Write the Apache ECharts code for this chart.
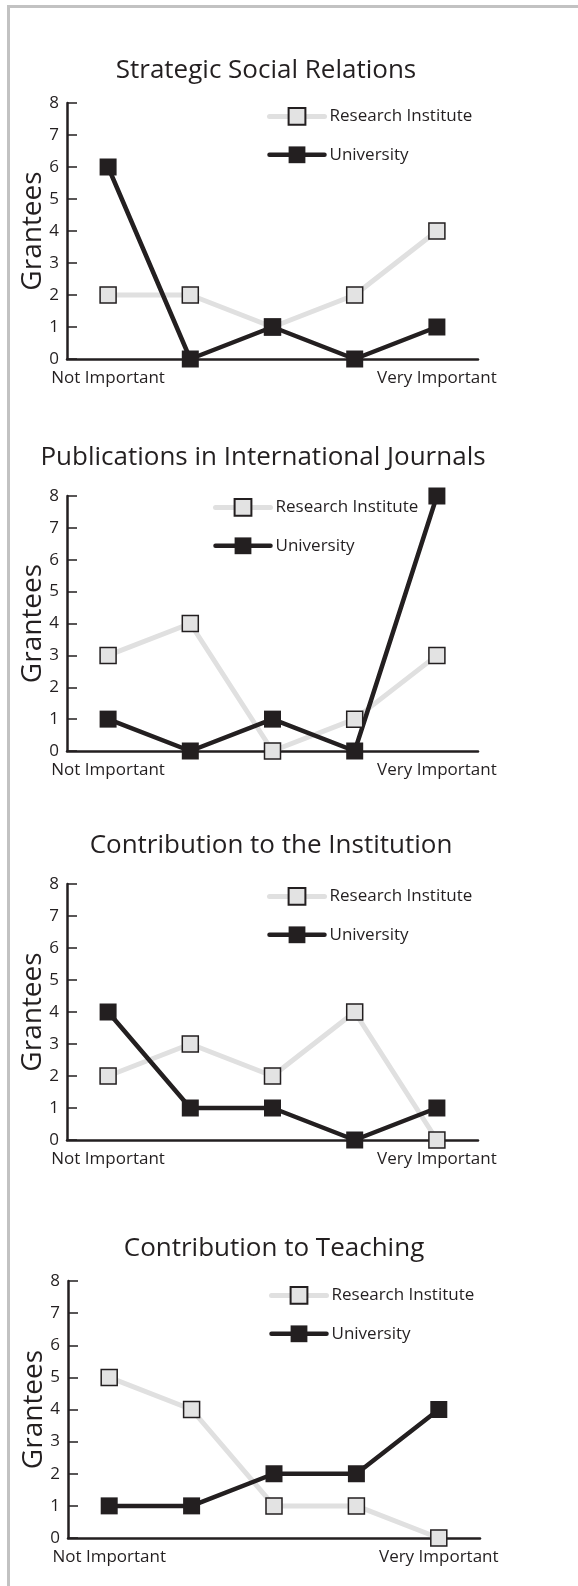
<!DOCTYPE html>
<html>
<head>
<meta charset="utf-8">
<script src="https://cdn.jsdelivr.net/npm/echarts@6/dist/echarts.min.js"></script>
<style>
html,body{margin:0;padding:0;background:#fff;}
#chart{width:578px;height:1586px;}
</style>
</head>
<body>
<div id="chart"></div>
<script>
// data
var panelTitles = ["Strategic Social Relations","Publications in International Journals","Contribution to the Institution","Contribution to Teaching"];
var categories = ["1","2","3","4","5"];
var tickLabels = ["Not Important","","","","Very Important"];
var seriesNames = ["Research Institute","University"];
var instituteValues = [
    [2,2,1,2,4],
    [3,4,0,1,3],
    [2,3,2,4,0],
    [5,4,1,1,0]
];
var universityValues = [
    [6,0,1,0,1],
    [1,0,1,0,8],
    [4,1,1,0,1],
    [1,1,2,2,4]
];
var yMin = 0, yMax = 8, yStep = 1;
var axisName = "Grantees";

// layout of the 4 panels (pixels)
var panels = [
    {top:103, bottom:359, left:67,  right:478, titleX:266, titleY:71,   legendX:267, legendY:107},
    {top:496, bottom:751, left:67,  right:478, titleX:263, titleY:458,  legendX:213, legendY:498},
    {top:884, bottom:1140,left:67,  right:478, titleX:271, titleY:846,  legendX:267, legendY:887},
    {top:1281,bottom:1538,left:68,  right:480, titleX:274, titleY:1249, legendX:269, legendY:1286}
];

var ink = "#231f20";
var grey = "#e0e0e0";
var font = "Open Sans";

var myChart = echarts.init(document.getElementById("chart"));

var titles = [], legends = [], grids = [], xAxes = [], yAxes = [], series = [];
for(var i=0;i<panels.length;i++){
    var p = panels[i];
    titles.push({
        text: panelTitles[i],
        left: p.titleX, top: p.titleY,
        textAlign: "center", textVerticalAlign: "middle",
        padding: 0,
        textStyle: {fontFamily: font, fontSize: 26, fontWeight: "normal", color: ink}
    });
    legends.push({
        data: seriesNames,
        orient: "vertical",
        left: p.legendX, top: p.legendY,
        padding: 0,
        itemWidth: 55, itemHeight: 21, itemGap: 20.5,
        selectedMode: false,
        lineStyle: {width: "inherit", cap: "round"},
        textStyle: {fontFamily: font, fontSize: 17, color: ink}
    });
    grids.push({
        left: p.left, top: p.top,
        width: p.right - p.left, height: p.bottom - p.top
    });
    xAxes.push({
        type: "category", gridIndex: i,
        data: categories,
        boundaryGap: true,
        axisLine: {lineStyle: {color: ink, width: 2.5}},
        axisTick: {inside: true, length: 7, alignWithLabel: true, lineStyle: {color: ink, width: 1.5}},
        axisLabel: {
            interval: 0, margin: 11, color: ink, fontFamily: font, fontSize: 17,
            formatter: function(v, idx){ return tickLabels[idx]; }
        },
        splitLine: {show: false}
    });
    yAxes.push({
        type: "value", gridIndex: i,
        min: yMin, max: yMax, interval: yStep,
        name: axisName, nameLocation: "middle", nameGap: 20,
        nameMoveOverlap: false,
        nameTextStyle: {fontFamily: font, fontSize: 28, color: ink},
        axisLine: {show: true, lineStyle: {color: ink, width: 2.5}},
        axisTick: {show: true, inside: true, length: 10, lineStyle: {color: ink, width: 1.5}},
        axisLabel: {margin: 8, color: ink, fontFamily: font, fontSize: 17},
        splitLine: {show: false}
    });
    series.push({
        name: seriesNames[0], type: "line",
        xAxisIndex: i, yAxisIndex: i,
        data: instituteValues[i],
        symbol: "rect", symbolSize: 16,
        lineStyle: {color: grey, width: 5, cap: "round", join: "round"},
        itemStyle: {color: "#e3e3e3", borderColor: ink, borderWidth: 1.5},
        emphasis: {disabled: true}
    });
    series.push({
        name: seriesNames[1], type: "line",
        xAxisIndex: i, yAxisIndex: i,
        data: universityValues[i],
        symbol: "rect", symbolSize: 17,
        lineStyle: {color: ink, width: 4.5, cap: "round", join: "round"},
        itemStyle: {color: ink, borderColor: ink, borderWidth: 0},
        emphasis: {disabled: true}
    });
}

var option = {
    animation: false,
    backgroundColor: "#fff",
    title: titles,
    legend: legends,
    grid: grids,
    xAxis: xAxes,
    yAxis: yAxes,
    series: series,
    // grey frame on the left and top edges
    graphic: [{
        type: "rect", silent: true,
        shape: {x: 8.5, y: 6.5, width: 700, height: 1700},
        style: {fill: "none", stroke: "#c2c2c2", lineWidth: 3}
    }]
};
myChart.setOption(option);
</script>
</body>
</html>
